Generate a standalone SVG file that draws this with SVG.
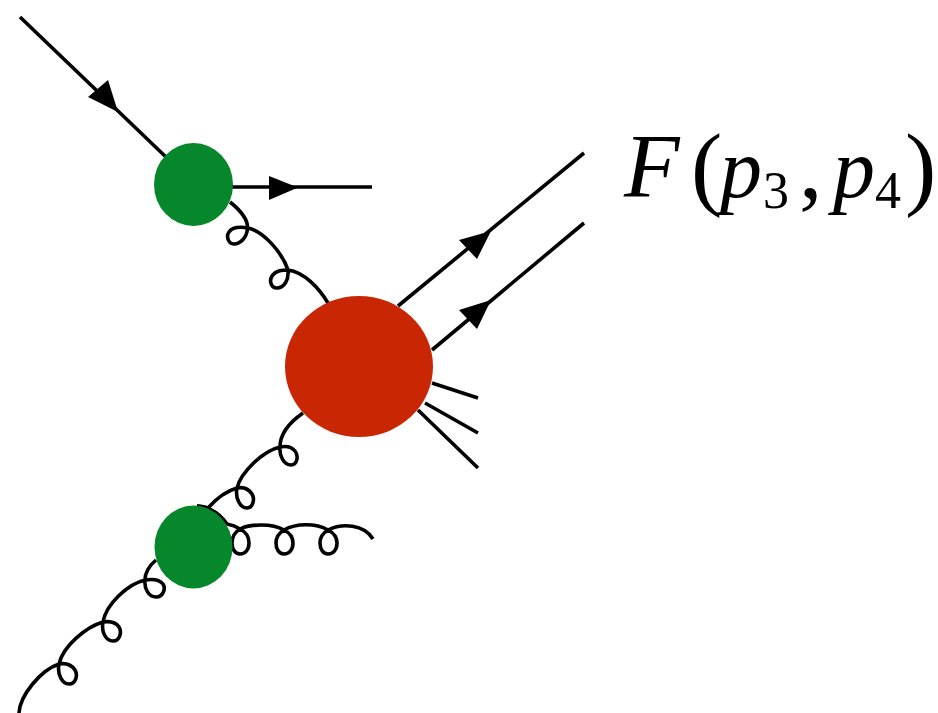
<svg xmlns="http://www.w3.org/2000/svg" width="938" height="713" viewBox="0 0 938 713">
<style>
.l{fill:none;stroke:#000;stroke-width:3.6;stroke-linecap:butt;stroke-linejoin:round}
.h{fill:#000;stroke:none}
.g{fill:#06872b}
.r{fill:#c92704}
.t{font-family:"Liberation Serif","Times New Roman",serif;font-size:84px;fill:#000}
.i{font-style:italic}
.s{font-size:52px}
.f{font-size:91px}
.p{font-size:94px}
</style>
<rect width="938" height="713" fill="#fff"/>
<g id="connectors">
<path class="l" d="M20 17L167 158"/>
<path class="h" d="M88 97L108 80L118 112Z"/>
<path class="l" d="M232 187H372"/>
<path class="h" d="M269 176L298 187.5L269 200Z"/>
<path class="l" d="M398 306L584 153"/>
<path class="h" d="M459 240L477 259L491 231Z"/>
<path class="l" d="M432 350L584 223"/>
<path class="h" d="M459 310L477 329L491 300Z"/>
<path class="l" d="M432 383L478 398M425 403L478 433M418 410L478 468"/>
<path id="gluon-top" class="l" d="M230 202C240 210 248 219 247.5 228C247 238 240 244 234 244C228 244 226 236 229 232C233 226 242 227 248 228C263 231 282 252 288 270C289 280 284 288 277 288C271 288 269 281 272 276C276 270 283 270 288 270C304 272 319 288 328 303"/>
<path id="gluon-upper" class="l" d="M303 413C290 422 280 434 280 447C279 456 284 465 291 465C297 465 299 456 295 451C291 446 285 446 280 447C263 451 241 472 237 488C235 498 240 508 247 508C253 508 255 499 252 494C248 488 242 487 237 488C226 491 216 499 208 508C205 507 201 506 197 506"/>
<path id="gluon-lower" class="l" d="M156 560C149 566 145 573 145 580C144 589 149 597 156 597C163 597 166 589 163 584C159 579 151 579 145 580C128 584 106 604 103 622C101 632 106 641 113 641C120 641 122 632 119 627C115 621 109 621 103 622C86 627 63 646 59 664C57 674 62 684 69 684C76 684 78 675 75 670C71 664 65 663 59 664C41 670 20 695 19 713"/>
<path id="gluon-right" class="l" d="M197 506C209 507 220 514 227 524C233 525 237 527 240 529C246 532 249 537 249 543C249 550 245 554 240 554C235 554 232 549 232 543C232 537 235 532 240 529C250 524 272 523 284 530C290 533 293 537 293 543C293 550 289 554 284 554C279 554 276 549 276 543C276 537 279 533 284 530C296 523 316 523 328 530C334 533 337 537 337 543C337 550 333 554 328 554C323 554 320 549 320 543C320 537 323 533 328 530C342 523 364 524 373 539"/>
</g>
<g id="node-top"><ellipse class="g" cx="193.5" cy="184.5" rx="39.5" ry="41.5"/></g>
<g id="node-bottom"><ellipse class="g" cx="193.5" cy="547" rx="39" ry="41.5"/></g>
<g id="node-hard"><ellipse class="r" cx="359" cy="366.5" rx="74" ry="70.5"/></g>
<g id="label"><text class="t"><tspan class="i f" x="624" y="197">F</tspan><tspan class="p" x="691" y="198">(</tspan><tspan class="i" x="720" y="197">p</tspan><tspan class="s" x="763" y="208">3</tspan><tspan class="p" x="799" y="198">,</tspan><tspan class="i" x="833" y="197">p</tspan><tspan class="s" x="875" y="208">4</tspan><tspan class="p" x="905" y="198">)</tspan></text></g>
</svg>
